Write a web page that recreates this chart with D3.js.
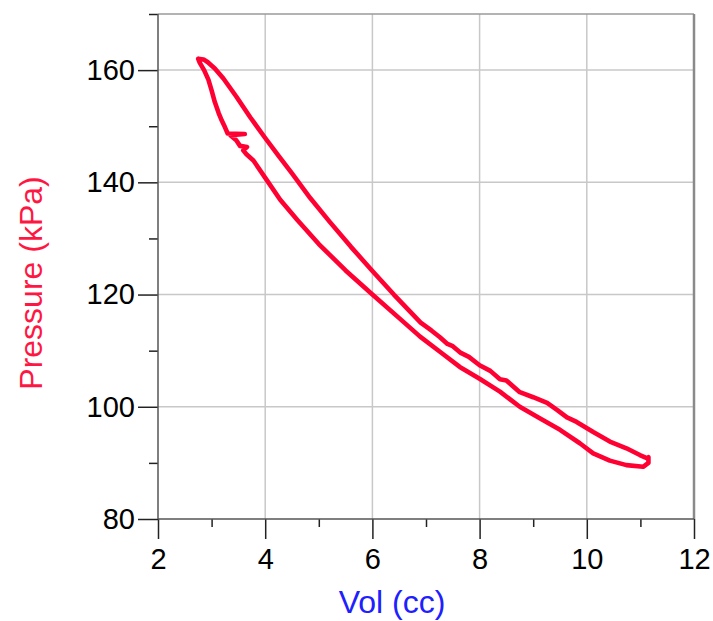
<!DOCTYPE html>
<html>
<head>
<meta charset="utf-8">
<script src="https://cdn.jsdelivr.net/npm/d3@7"></script>
<style>
  body { margin: 0; background: #fff; }
  svg { display: block; font-family: Arial, "Liberation Sans", sans-serif; }
</style>
</head>
<body>
<svg id="chart" width="713" height="621"></svg>
<script>
// loop: upper branch from the top down to the tip
const upperVol = [2.75, 2.85, 2.93, 3.06, 3.22, 3.46, 3.72, 4.0, 4.25, 4.5, 4.84, 5.2, 5.6, 6.0, 6.4, 6.9,
  7.1, 7.26, 7.4, 7.5, 7.65, 7.8, 8.0, 8.2, 8.38, 8.5, 8.75, 9.0, 9.26, 9.45, 9.63, 9.81, 10.12, 10.43, 10.74, 10.99, 11.13, 11.15];
const upperPres = [162.0, 161.9, 161.4, 160.3, 158.5, 155.3, 151.6, 147.9, 144.7, 141.6, 137.2, 133.0, 128.5, 124.2, 120.0, 115.0,
  113.6, 112.4, 111.2, 110.8, 109.6, 108.9, 107.4, 106.4, 104.9, 104.7, 102.6, 101.7, 100.7, 99.4, 98.1, 97.3, 95.5, 93.8, 92.6, 91.4, 90.8, 91.0];
// lower branch from the tip back up to the top
const lowerVol = [11.15, 11.05, 10.74, 10.43, 10.12, 9.87, 9.5, 9.13, 8.75, 8.38, 8.0, 7.63, 7.26, 6.89, 6.5, 6.0, 5.5, 5.0, 4.6, 4.28,
  4.03, 3.78, 3.65, 3.59, 3.66, 3.53, 3.46, 3.35, 3.62, 3.30, 3.25, 3.19, 3.13, 3.06, 3.0, 2.94, 2.86, 2.78, 2.75];
const lowerPres = [90.0, 89.3, 89.6, 90.4, 91.7, 93.5, 95.9, 97.9, 100.0, 102.7, 105.0, 107.1, 109.8, 112.5, 115.8, 120.0, 124.3, 129.0, 133.3, 136.9,
  140.4, 143.9, 145.0, 145.7, 146.3, 146.5, 147.5, 148.4, 148.6, 148.7, 149.8, 151.0, 152.4, 154.3, 156.4, 158.3, 160.0, 161.3, 162.0];

const xTicks = [2, 4, 6, 8, 10, 12];
const xMinor = [3, 5, 7, 9, 11];
const yTicks = [80, 100, 120, 140, 160];
const yMinor = [90, 110, 130, 150, 170];

const svg = d3.select('#chart');
const margin = { top: 14, right: 19, bottom: 102, left: 158 };
const width = 713 - margin.left - margin.right;
const height = 621 - margin.top - margin.bottom;

const x = d3.scaleLinear().domain([2, 12]).range([0, width]);
const y = d3.scaleLinear().domain([80, 170]).range([height, 0]);

const g = svg.append('g').attr('transform', 'translate(' + margin.left + ',' + margin.top + ')');

// grid
g.selectAll('.gx').data(xTicks.slice(1, -1)).enter().append('line')
  .attr('x1', d => x(d)).attr('x2', d => x(d)).attr('y1', 0).attr('y2', height)
  .attr('stroke', '#c8c8c8').attr('stroke-width', 1.5);
g.selectAll('.gy').data(yTicks.slice(1)).enter().append('line')
  .attr('x1', 0).attr('x2', width).attr('y1', d => y(d)).attr('y2', d => y(d))
  .attr('stroke', '#c8c8c8').attr('stroke-width', 1.5);

// frame top / right
g.append('line').attr('x1', 0).attr('x2', width).attr('y1', 0).attr('y2', 0)
  .attr('stroke', '#9a9a9a').attr('stroke-width', 1.5);
g.append('line').attr('x1', width).attr('x2', width).attr('y1', 0).attr('y2', height)
  .attr('stroke', '#8a8a8a').attr('stroke-width', 2.5);

// axes
function styleAxis(sel) {
  sel.select('.domain').remove();
  sel.selectAll('.tick line').attr('stroke', '#222').attr('stroke-width', 1.5);
  sel.selectAll('.tick text').attr('fill', '#000').style('font-size', '29px');
}

const xAxis = g.append('g').attr('transform', 'translate(0,' + height + ')')
  .call(d3.axisBottom(x).tickValues(xTicks).tickSize(20).tickPadding(9).tickFormat(d3.format('d')));
styleAxis(xAxis);
const xAxisMinor = g.append('g').attr('transform', 'translate(0,' + height + ')')
  .call(d3.axisBottom(x).tickValues(xMinor).tickSize(8).tickFormat(''));
styleAxis(xAxisMinor);

const yAxis = g.append('g')
  .call(d3.axisLeft(y).tickValues(yTicks).tickSize(20).tickPadding(3).tickFormat(d3.format('d')));
styleAxis(yAxis);
const yAxisMinor = g.append('g')
  .call(d3.axisLeft(y).tickValues(yMinor).tickSize(9).tickFormat(''));
styleAxis(yAxisMinor);

g.append('line').attr('x1', 0).attr('x2', width).attr('y1', height).attr('y2', height)
  .attr('stroke', '#555').attr('stroke-width', 1.5);
g.append('line').attr('x1', 0).attr('x2', 0).attr('y1', 0).attr('y2', height)
  .attr('stroke', '#555').attr('stroke-width', 1.5);

// loop
const pts = upperVol.map((v, i) => [v, upperPres[i]])
  .concat(lowerVol.map((v, i) => [v, lowerPres[i]]));
const line = d3.line().x(d => x(d[0])).y(d => y(d[1]));
g.append('path').datum(pts)
  .attr('d', line)
  .attr('fill', 'none')
  .attr('stroke', '#ff0033')
  .attr('stroke-width', 4.6)
  .attr('stroke-linejoin', 'round')
  .attr('stroke-linecap', 'round');

// titles
svg.append('text')
  .attr('x', 392).attr('y', 613)
  .attr('text-anchor', 'middle')
  .attr('fill', '#2020ff')
  .style('font-size', '32px')
  .text('Vol (cc)');
svg.append('text')
  .attr('transform', 'translate(42,283) rotate(-90)')
  .attr('text-anchor', 'middle')
  .attr('fill', '#ff1744')
  .style('font-size', '32px')
  .text('Pressure (kPa)');
</script>
</body>
</html>
